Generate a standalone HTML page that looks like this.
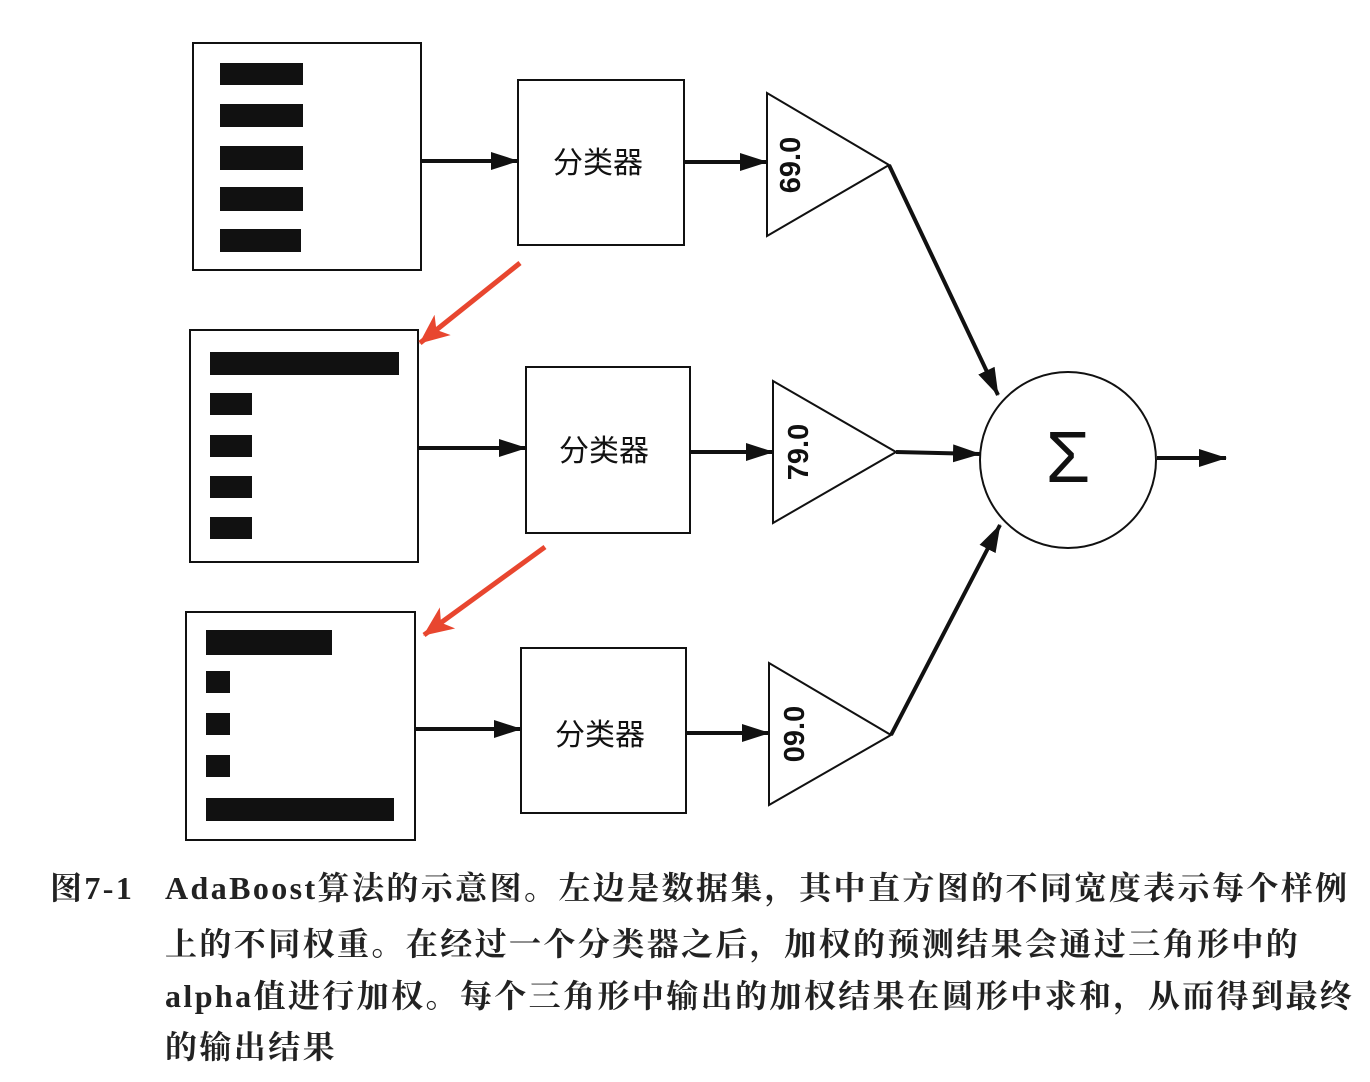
<!DOCTYPE html>
<html><head><meta charset="utf-8"><style>
body{margin:0;background:#fff;width:1370px;height:1082px;overflow:hidden;position:relative}
.cap{position:absolute;font-family:"Liberation Serif","Noto Serif CJK SC",serif;font-size:32px;letter-spacing:2.4px;color:#222;white-space:nowrap;line-height:32px;font-weight:bold}
</style></head><body>
<svg width="1370" height="1082" style="position:absolute;left:0;top:0">
<defs>
<marker id="ab" markerWidth="28" markerHeight="20" refX="27" refY="10" orient="auto" markerUnits="userSpaceOnUse"><path d="M0,1 L28,10 L0,19z" fill="#111"/></marker>
<marker id="r" markerWidth="30" markerHeight="26" refX="29" refY="13" orient="auto" markerUnits="userSpaceOnUse"><path d="M0,0 L30,13 L0,26 L8,13z" fill="#e8462f"/></marker>
</defs>
<g fill="none" stroke="#111" stroke-width="2">
<rect x="193" y="43" width="228" height="227"/>
<rect x="190" y="330" width="228" height="232"/>
<rect x="186" y="612" width="229" height="228"/>
<rect x="518" y="80" width="166" height="165"/>
<rect x="526" y="367" width="164" height="166"/>
<rect x="521" y="648" width="165" height="165"/>
<polygon points="767,93 767,236 889,165"/>
<polygon points="773,381 773,523 896,452"/>
<polygon points="769,663 769,805 891,735"/>
<circle cx="1068" cy="460" r="88"/>
</g>
<g fill="#111">
<rect x="220" y="63" width="83" height="22"/><rect x="220" y="104" width="83" height="23"/><rect x="220" y="146" width="83" height="24"/><rect x="220" y="187" width="83" height="24"/><rect x="220" y="229" width="81" height="23"/>
<rect x="210" y="352" width="189" height="23"/><rect x="210" y="393" width="42" height="22"/><rect x="210" y="435" width="42" height="22"/><rect x="210" y="476" width="42" height="22"/><rect x="210" y="517" width="42" height="22"/>
<rect x="206" y="630" width="126" height="25"/><rect x="206" y="671" width="24" height="22"/><rect x="206" y="713" width="24" height="22"/><rect x="206" y="755" width="24" height="22"/><rect x="206" y="798" width="188" height="23"/>
</g>
<g stroke="#111" stroke-width="4" fill="none">
<line x1="421" y1="161" x2="518" y2="161" marker-end="url(#ab)"/>
<line x1="418" y1="448" x2="526" y2="448" marker-end="url(#ab)"/>
<line x1="415" y1="729" x2="521" y2="729" marker-end="url(#ab)"/>
<line x1="684" y1="162" x2="767" y2="162" marker-end="url(#ab)"/>
<line x1="690" y1="452" x2="773" y2="452" marker-end="url(#ab)"/>
<line x1="686" y1="733" x2="769" y2="733" marker-end="url(#ab)"/>
<line x1="889" y1="165" x2="998" y2="395" marker-end="url(#ab)"/>
<line x1="896" y1="452" x2="980" y2="454" marker-end="url(#ab)"/>
<line x1="891" y1="735" x2="1000" y2="525" marker-end="url(#ab)"/>
<line x1="1157" y1="458" x2="1226" y2="458" marker-end="url(#ab)"/>
</g>
<g stroke="#e8462f" stroke-width="5">
<line x1="520" y1="263" x2="420" y2="343" marker-end="url(#r)"/>
<line x1="545" y1="547" x2="424" y2="635" marker-end="url(#r)"/>
</g>
<g font-family="Liberation Sans, Noto Sans CJK SC, sans-serif" fill="#111">
<text x="598" y="173" font-size="30" text-anchor="middle">分类器</text>
<text x="604" y="461" font-size="30" text-anchor="middle">分类器</text>
<text x="600" y="745" font-size="30" text-anchor="middle">分类器</text>
<text transform="translate(800,165) rotate(-90)" font-size="29" font-weight="bold" text-anchor="middle">69.0</text>
<text transform="translate(808,452) rotate(-90)" font-size="29" font-weight="bold" text-anchor="middle">79.0</text>
<text transform="translate(804,734) rotate(-90)" font-size="29" font-weight="bold" text-anchor="middle">09.0</text>
<text x="1068" y="482" font-size="72" text-anchor="middle">Σ</text>
</g>
</svg>
<div class="cap" style="left:50px;top:872px">图7-1</div>
<div class="cap" style="left:165px;top:872px">AdaBoost算法的示意图。左边是数据集，其中直方图的不同宽度表示每个样例</div>
<div class="cap" style="left:165px;top:928px">上的不同权重。在经过一个分类器之后，加权的预测结果会通过三角形中的</div>
<div class="cap" style="left:165px;top:980px">alpha值进行加权。每个三角形中输出的加权结果在圆形中求和，从而得到最终</div>
<div class="cap" style="left:165px;top:1031px">的输出结果</div>
</body></html>
